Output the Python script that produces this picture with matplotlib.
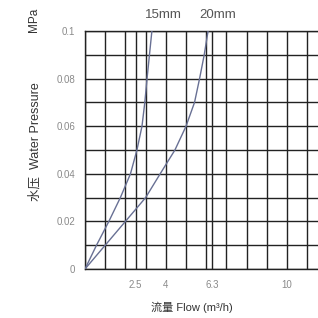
import matplotlib
matplotlib.use('Agg')
import matplotlib.pyplot as plt

plt.rcParams['font.family'] = ['Liberation Sans', 'Noto Sans CJK SC', 'DejaVu Sans']

# water pressure (MPa) and flow (m3/h)
pressure = [0, 0.01, 0.02, 0.03, 0.04, 0.05, 0.06, 0.07, 0.08, 0.09, 0.1]
flow_15 = [0, 0.57, 1.18, 1.75, 2.25, 2.57, 2.82, 2.96, 3.07, 3.19, 3.31]
flow_20 = [0, 1.0, 2.0, 3.0, 3.72, 4.45, 5.0, 5.42, 5.67, 5.9, 6.09]

x_grid = [0, 1, 2, 2.5, 3, 4, 5, 6, 6.3, 7, 8, 9, 10, 11]
x_ticks = [2.5, 4, 6.3, 10]
x_labels = ['2.5', '4', '6.3', '10']
y_grid = [0, 0.01, 0.02, 0.03, 0.04, 0.05, 0.06, 0.07, 0.08, 0.09, 0.1]
y_ticks = [0, 0.02, 0.04, 0.06, 0.08, 0.1]
y_labels = ['0', '0.02', '0.04', '0.06', '0.08', '0.1']

fig = plt.figure(figsize=(3.18, 3.18), dpi=100)
ax = fig.add_axes([85/318, 49/318, 233/318, 238/318])

gc = '#222222'
ax.plot(flow_15, pressure, color='#687094', lw=1.0, zorder=3)
ax.plot(flow_20, pressure, color='#687094', lw=1.0, zorder=3)

ax.set_xlim(0, 11.53)
ax.set_ylim(0, 0.1)
ax.set_xticks(x_grid, minor=True)
ax.set_yticks(y_grid, minor=True)
ax.set_xticks(x_ticks, x_labels)
ax.set_yticks(y_ticks, y_labels)
ax.grid(which='both', color=gc, lw=1.0)
ax.tick_params(which='both', length=0)
ax.tick_params(axis='x', pad=8, labelsize=7, labelcolor='#8a8a8a')
ax.tick_params(axis='y', pad=7, labelsize=7, labelcolor='#8a8a8a')
for s in ['left', 'bottom', 'top']:
    ax.spines[s].set_color(gc)
    ax.spines[s].set_linewidth(1.0)
ax.spines['right'].set_visible(False)

fig.text(163/318, 1 - 15/318, '15mm', ha='center', va='center', fontsize=9.5, color='#555555')
fig.text(218/318, 1 - 15/318, '20mm', ha='center', va='center', fontsize=9.5, color='#555555')
fig.text(34/318, 1 - 20/318, 'MPa', rotation=90, ha='center', va='center', fontsize=8.5, color='#333333')
fig.text(35/318, 1 - 142/318, '水压  Water Pressure', rotation=90, ha='center', va='center',
         fontsize=9, color='#333333')
fig.text(192/318, 1 - 307/318, '流量 Flow (m³/h)', ha='center', va='center', fontsize=8, color='#333333')

fig.savefig('out.png', dpi=100)
